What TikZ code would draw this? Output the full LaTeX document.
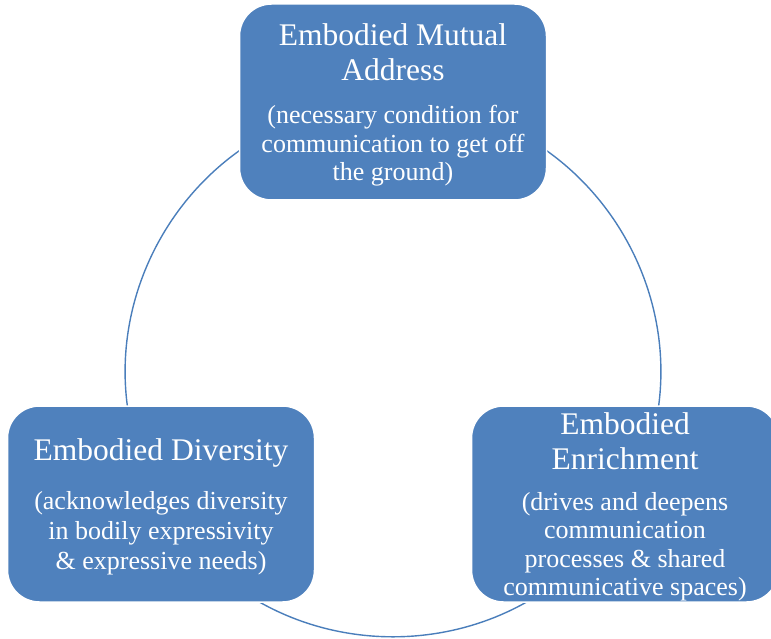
\documentclass[tikz,border=0pt]{standalone}
\usepackage{fontspec}
\setmainfont{Liberation Serif}
\usetikzlibrary{backgrounds}
\definecolor{boxblue}{HTML}{4F81BD}
\definecolor{ringblue}{HTML}{4A7EBB}
\newcommand{\headfont}{\fontsize{31.5}{35}\selectfont}
\newcommand{\notefont}{\fontsize{26}{28.5}\selectfont}

\begin{document}
\begin{tikzpicture}[x=1pt,y=-1pt]
	\useasboundingbox (0,0) rectangle (771,639);
	\clip (0,0) rectangle (771,639);
	\begin{scope}[every node/.style={draw=white,line width=1.5pt,fill=boxblue,rounded corners=32pt,minimum width=307pt,minimum height=196pt,text width=300pt,inner sep=0pt,align=flush center,text=white}]
		\node (address) at (393,102) {\headfont Embodied Mutual\\Address\par\vspace{14.5pt}\notefont (necessary condition for\\communication to get off\\the ground)\par\vspace{-6pt}};
		\node (diversity) at (161,504) {\headfont Embodied Diversity\par\vspace{19pt}\notefont\baselineskip=30pt (acknowledges diversity\\in bodily expressivity\\\& expressive needs)\par\vspace{-5pt}};
		\node (enrichment) at (625,504) {\headfont Embodied\\Enrichment\par\vspace{12.5pt}\notefont (drives and deepens\\communication\\processes \& shared\\communicative spaces)\par\vspace{-6pt}};
	\end{scope}
	\begin{pgfonlayer}{background}
		\path [draw=ringblue,line width=1.4pt](address.center) edge [bend left=60,looseness=1.13] (enrichment.center);
		\path [draw=ringblue,line width=1.4pt](enrichment.center) edge [bend left=60,looseness=1.13] (diversity.center);
		\path [draw=ringblue,line width=1.4pt](diversity.center) edge [bend left=60,looseness=1.13] (address.center);
	\end{pgfonlayer}
\end{tikzpicture}
\end{document}
